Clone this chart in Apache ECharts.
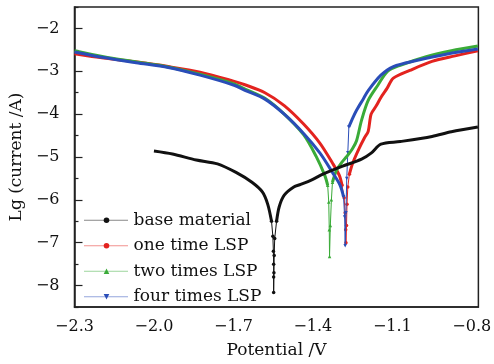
<!DOCTYPE html>
<html>
<head>
<meta charset="utf-8">
<script src="https://cdn.jsdelivr.net/npm/echarts@6/dist/echarts.min.js"></script>
<style>
  html, body { margin: 0; padding: 0; background: #fff; }
  #chart { width: 494px; height: 364px; }
</style>
</head>
<body>
<div id="chart"></div>
<script>
// polarization curves, [potential V, lg(current A)]
const baseMaterial = [
  [-2.00, -4.86], [-1.93, -4.93], [-1.84, -5.07], [-1.76, -5.16], [-1.69, -5.36],
  [-1.63, -5.59], [-1.59, -5.82], [-1.57, -6.11], [-1.556, -6.5], [-1.551, -6.85],
  [-1.549, -7.2], [-1.548, -7.5], [-1.548, -7.8], [-1.548, -8.16], [-1.547, -7.7],
  [-1.546, -7.3], [-1.544, -6.9], [-1.537, -6.5], [-1.527, -6.16], [-1.508, -5.89],
  [-1.472, -5.70], [-1.446, -5.64], [-1.40, -5.52], [-1.362, -5.40], [-1.29, -5.22],
  [-1.216, -5.05], [-1.18, -4.91], [-1.143, -4.70], [-1.07, -4.64], [-0.95, -4.52],
  [-0.877, -4.41], [-0.777, -4.30]
];
const oneTimeLSP = [
  [-2.30, -2.59], [-2.19, -2.69], [-2.07, -2.78], [-1.946, -2.89], [-1.826, -3.02],
  [-1.70, -3.23], [-1.654, -3.32], [-1.581, -3.50], [-1.508, -3.80], [-1.435, -4.23],
  [-1.373, -4.68], [-1.326, -5.14], [-1.30, -5.43], [-1.29, -5.66], [-1.282, -5.95],
  [-1.278, -6.3], [-1.276, -6.7], [-1.275, -7.0], [-1.273, -6.6], [-1.271, -6.1],
  [-1.268, -5.7], [-1.262, -5.4], [-1.25, -5.15], [-1.227, -4.82], [-1.205, -4.55],
  [-1.191, -4.40], [-1.18, -4.0], [-1.16, -3.8], [-1.143, -3.61], [-1.12, -3.40],
  [-1.096, -3.16], [-1.034, -2.98], [-0.95, -2.77], [-0.863, -2.64], [-0.777, -2.52]
];
const twoTimesLSP = [
  [-2.30, -2.52], [-2.19, -2.66], [-2.067, -2.78], [-1.946, -2.90], [-1.826, -3.07],
  [-1.70, -3.29], [-1.654, -3.42], [-1.581, -3.63], [-1.508, -4.0], [-1.435, -4.48],
  [-1.388, -4.98], [-1.355, -5.43], [-1.344, -5.66], [-1.340, -6.05], [-1.338, -6.7],
  [-1.337, -7.32], [-1.334, -6.6], [-1.330, -6.0], [-1.326, -5.59], [-1.31, -5.3],
  [-1.29, -5.12], [-1.271, -4.98], [-1.25, -4.8], [-1.235, -4.62], [-1.216, -4.14],
  [-1.191, -3.68], [-1.154, -3.32], [-1.118, -3.0], [-1.07, -2.86], [-0.972, -2.66],
  [-0.877, -2.52], [-0.777, -2.41]
];
const fourTimesLSP = [
  [-2.30, -2.55], [-2.19, -2.68], [-2.067, -2.80], [-1.946, -2.91], [-1.826, -3.09],
  [-1.70, -3.32], [-1.654, -3.45], [-1.581, -3.65], [-1.508, -4.0], [-1.435, -4.45],
  [-1.373, -4.91], [-1.326, -5.36], [-1.297, -5.66], [-1.284, -5.93], [-1.280, -6.4],
  [-1.278, -7.07], [-1.275, -6.3], [-1.272, -5.5], [-1.268, -4.9], [-1.264, -4.30],
  [-1.25, -4.1], [-1.235, -3.91], [-1.21, -3.65], [-1.191, -3.45], [-1.143, -3.09],
  [-1.096, -2.89], [-1.009, -2.75], [-0.888, -2.59], [-0.777, -2.48]
];

const seriesNames = ['base material', 'one time LSP', 'two times LSP', 'four times LSP'];
const xTicks = [-2.3, -2.0, -1.7, -1.4, -1.1, -0.8];
const yTicks = [-8, -7, -6, -5, -4, -3, -2];
const yMinorTicks = [-8.5, -7.5, -6.5, -5.5, -4.5, -3.5, -2.5, -1.5];

const font = '"DejaVu Serif", serif';
const minus = v => String(v).replace('-', '\u2212');

// each curve: data, colour, marker, and the potential window of its thin dotted dip
const curves = [
  { data: baseMaterial, color: '#111111', symbol: 'circle', rotate: 0, dip: [-1.5515, -1.5435] },
  { data: oneTimeLSP, color: '#e3231f', symbol: 'circle', rotate: 0, dip: [-1.2825, -1.2665] },
  { data: twoTimesLSP, color: '#3aab38', symbol: 'triangle', rotate: 0, dip: [-1.3415, -1.3275] },
  { data: fourTimesLSP, color: '#2a4db8', symbol: 'triangle', rotate: 180, dip: [-1.2835, -1.2645] }
];

const inDip = (c, k) => k >= 0 && k < c.data.length && c.data[k][0] > c.dip[0] && c.data[k][0] < c.dip[1];

const series = [];
curves.forEach((c, i) => {
  // thin line with markers, only through the dip (plus its neighbouring points)
  series.push({
    name: seriesNames[i],
    type: 'line',
    data: c.data.map((p, k) => (inDip(c, k - 1) || inDip(c, k) || inDip(c, k + 1) ? p : [p[0], null])),
    symbol: c.symbol,
    symbolRotate: c.rotate,
    symbolSize: 3.5,
    showSymbol: true,
    connectNulls: false,
    lineStyle: { color: c.color, width: 1 },
    itemStyle: { color: c.color },
    z: i === 0 ? 6 : 2 + i * 0.1,
    silent: true
  });
  // thick smooth line everywhere but the dip
  series.push({
    name: seriesNames[i],
    type: 'line',
    data: c.data.map((p, k) => (inDip(c, k) ? [p[0], null] : p)),
    showSymbol: false,
    symbol: 'none',
    smooth: 0.3,
    connectNulls: false,
    lineStyle: { color: c.color, width: 3 },
    z: i === 0 ? 6.5 : 3 + i * 0.1,
    silent: true
  });
});

const chart = echarts.init(document.getElementById('chart'));
chart.setOption({
  backgroundColor: '#ffffff',
  animation: false,
  grid: {
    left: 63, right: 13, top: 7, bottom: 49,
    show: true, borderColor: '#222', borderWidth: 1.5, backgroundColor: 'transparent'
  },
  legend: {
    data: seriesNames,
    orient: 'vertical',
    left: 79,
    top: 205,
    itemWidth: 44,
    itemHeight: 7,
    itemGap: 5,
    lineStyle: { type: 'dotted', width: 1 },
    textStyle: { fontFamily: font, fontSize: 17, color: '#111', lineHeight: 20.5 }
  },
  xAxis: {
    type: 'value',
    min: -2.3,
    max: -0.775,
    name: 'Potential /V',
    nameLocation: 'middle',
    nameGap: 35,
    nameTextStyle: { fontFamily: font, fontSize: 17, color: '#111' },
    axisLine: { show: true, lineStyle: { color: '#222', width: 1.5 } },
    axisTick: { show: false },
    splitLine: { show: false },
    axisLabel: {
      customValues: xTicks,
      margin: 12,
      fontFamily: font,
      fontSize: 16,
      color: '#111',
      formatter: v => minus(v.toFixed(1))
    }
  },
  yAxis: [
    {
      type: 'value',
      min: -8.5,
      max: -1.5,
      name: 'Lg (current /A)',
      nameLocation: 'middle',
      nameGap: 29,
      nameTextStyle: { fontFamily: font, fontSize: 17, color: '#111' },
      axisLine: { show: true, lineStyle: { color: '#222', width: 1.5 } },
      axisTick: { show: true, inside: true, length: 8, customValues: yTicks, lineStyle: { color: '#222', width: 1.2 } },
      splitLine: { show: false },
      axisLabel: {
        customValues: yTicks,
        margin: 15,
        fontFamily: font,
        fontSize: 16,
        color: '#111',
        formatter: v => minus(v)
      }
    },
    {
      type: 'value',
      min: -8.5,
      max: -1.5,
      position: 'left',
      axisLine: { show: false },
      axisTick: { show: true, inside: true, length: 4, customValues: yMinorTicks, lineStyle: { color: '#222', width: 1.2 } },
      axisLabel: { show: false },
      splitLine: { show: false }
    }
  ],
  series: series
});
</script>
</body>
</html>
